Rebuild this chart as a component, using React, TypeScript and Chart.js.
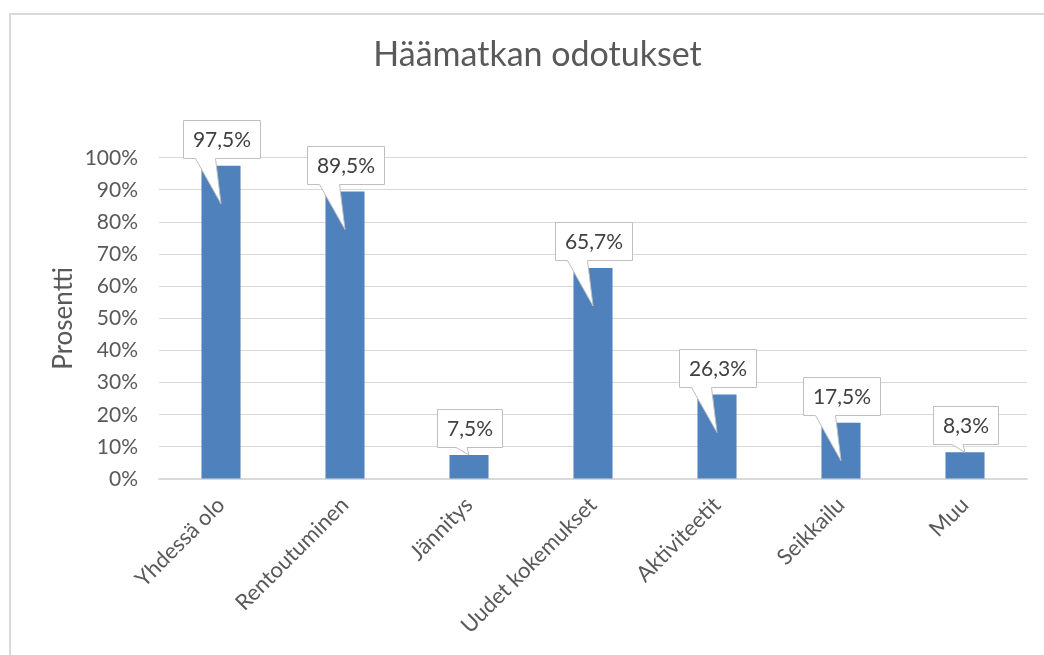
import React, { useEffect, useRef } from "react";
import { Chart, registerables } from "chart.js";

Chart.register(...registerables);

const TITLE = "Häämatkan odotukset";
const Y_TITLE = "Prosentti";
const categories = [
  "Yhdessä olo",
  "Rentoutuminen",
  "Jännitys",
  "Uudet kokemukset",
  "Aktiviteetit",
  "Seikkailu",
  "Muu",
];
const values = [97.5, 89.5, 7.5, 65.7, 26.3, 17.5, 8.3];
const Y_MIN = 0;
const Y_MAX = 100;
const Y_STEP = 10;

const FONT = "Lato, 'Open Sans', sans-serif";
const TEXT = "#595959";
const GRID = "#D9D9D9";
const BAR = "#4F81BD";

const fmt = (v: number) => v.toFixed(1).replace(".", ",") + "%";

const framePlugin = {
  id: "frame",
  beforeDraw(chart: any) {
    const ctx = chart.ctx;
    ctx.save();
    ctx.fillStyle = "#ffffff";
    ctx.fillRect(0, 0, chart.width, chart.height);
    ctx.strokeStyle = GRID;
    ctx.lineWidth = 2;
    ctx.strokeRect(10, 14, chart.width + 20, chart.height + 20);
    ctx.restore();
  },
};

const calloutPlugin = {
  id: "callouts",
  afterDatasetsDraw(chart: any) {
    const meta = chart.getDatasetMeta(0);
    const ds = chart.data.datasets[0];
    const ctx = chart.ctx;
    ctx.save();
    ctx.font = `21px ${FONT}`;
    meta.data.forEach((bar: any, i: number) => {
      const text = fmt(ds.data[i]);
      const { x, y, base } = bar.getProps(["x", "y", "base"], true);
      const tw = ctx.measureText(text).width;
      const w = Math.round(tw + 19);
      const h = 38;
      const L = Math.round(x - w / 2) + 0.5;
      const R = L + w;
      const B = Math.round(y - 8) + 0.5;
      const T = B - h;
      const tall = base - y > 45;
      const tipX = x;
      const tipY = tall ? y + 38 : y;
      const p1 = tall ? L + 12 : x - 13;
      const p2 = tall ? L + 32 : x - 2;
      ctx.beginPath();
      ctx.moveTo(L, T);
      ctx.lineTo(R, T);
      ctx.lineTo(R, B);
      ctx.lineTo(p2, B);
      ctx.lineTo(tipX, tipY);
      ctx.lineTo(p1, B);
      ctx.lineTo(L, B);
      ctx.closePath();
      ctx.fillStyle = "#ffffff";
      ctx.fill();
      ctx.strokeStyle = "#BFBFBF";
      ctx.lineWidth = 1;
      ctx.stroke();
      ctx.fillStyle = "#404040";
      ctx.textAlign = "center";
      ctx.textBaseline = "middle";
      ctx.fillText(text, (L + R) / 2, (T + B) / 2 + 1);
    });
    ctx.restore();
  },
};

export default function App() {
  const ref = useRef<HTMLCanvasElement>(null);
  useEffect(() => {
    if (!ref.current) return;
    const chart = new Chart(ref.current, {
      type: "bar",
      data: {
        labels: categories,
        datasets: [
          {
            data: values,
            backgroundColor: BAR,
            borderWidth: 0,
            categoryPercentage: 1,
            barPercentage: 0.315,
          },
        ],
      },
      options: {
        animation: false,
        responsive: false,
        layout: { padding: { left: 48, right: 17, top: 0, bottom: 0 } },
        plugins: {
          legend: { display: false },
          tooltip: { enabled: false },
          title: {
            display: true,
            text: TITLE,
            color: TEXT,
            font: { family: FONT, size: 34, weight: "normal" },
            padding: { top: 35, bottom: 82 },
          },
        },
        scales: {
          x: {
            grid: { display: false, drawTicks: false },
            border: { color: GRID, width: 1.5 },
            ticks: {
              color: TEXT,
              font: { family: FONT, size: 22 },
              maxRotation: 45,
              minRotation: 45,
              autoSkip: false,
              padding: 13,
            },
            afterFit: (s: any) => {
              s.height = 176;
            },
          },
          y: {
            min: Y_MIN,
            max: Y_MAX,
            ticks: {
              stepSize: Y_STEP,
              color: TEXT,
              font: { family: FONT, size: 21 },
              padding: 21,
              callback: (v: any) => v + "%",
            },
            grid: { color: GRID, drawTicks: false },
            border: { display: false },
            title: {
              display: true,
              text: Y_TITLE,
              color: TEXT,
              font: { family: FONT, size: 26, weight: "normal" },
              padding: { top: 0, bottom: 0 },
            },
            afterFit: (s: any) => {
              s.width = 111;
            },
          },
        },
      },
      plugins: [framePlugin, calloutPlugin],
    });
    return () => chart.destroy();
  }, []);
  return (
    <div style={{ position: "fixed", left: 0, top: 0, width: 1044, height: 655 }}>
      <canvas ref={ref} width={1044} height={655} style={{ display: "block" }} />
    </div>
  );
}
